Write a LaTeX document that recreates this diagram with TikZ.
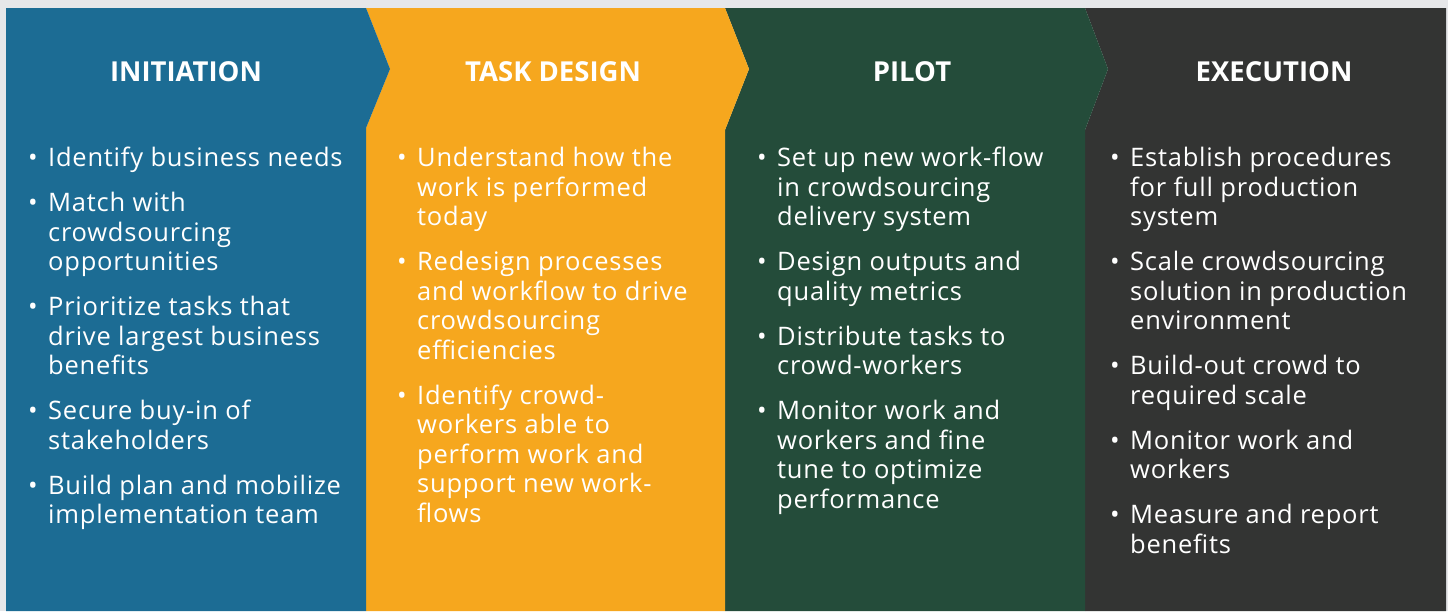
\documentclass[tikz,border=0pt]{standalone}
\usepackage{fontspec}
\setmainfont{Open Sans}

\definecolor{initblue}{RGB}{28,108,148}
\definecolor{designorange}{RGB}{246,167,30}
\definecolor{pilotgreen}{RGB}{36,76,58}
\definecolor{execgray}{RGB}{51,52,51}
\definecolor{framegray}{RGB}{230,231,233}

% one bullet point, later lines hang under the text
\newcommand{\phaseitem}[1]{\par\hangindent=20pt\hangafter=1\noindent\makebox[20pt][l]{\textbullet}#1}
% the block of bullet points under a phase title
\newcommand{\phaselist}[1]{\vtop{\hsize=330pt\raggedright
    \fontsize{25.5pt}{29.5pt}\selectfont\addfontfeatures{LetterSpace=3}\parskip=15.5pt
    #1\par}}

\tikzset{
  phase title/.style={anchor=base, text=white, font=\fontsize{27.5pt}{32pt}\selectfont\bfseries},
  phase list/.style={anchor=base west, inner sep=0pt, text=white}
}

\begin{document}
\begin{tikzpicture}[x=1pt, y=-1pt]
    \fill[framegray] (0,0) rectangle (1448,611);
    \useasboundingbox (0,0) rectangle (1448,611);
    % the four phases, each one pointing into the next
    \fill[execgray] (1085,8) -- (1446,8) -- (1446,611) -- (1085,611) -- (1085,130) -- (1108,69) -- cycle;
    \fill[pilotgreen] (725,8) -- (1085,8) -- (1108,69) -- (1085,130) -- (1085,611) -- (725,611) -- (725,130) -- (749,69) -- cycle;
    \fill[designorange] (366,8) -- (725,8) -- (749,69) -- (725,130) -- (725,611) -- (366,611) -- (366,128) -- (390,69) -- cycle;
    \fill[initblue] (6,8) -- (366,8) -- (390,69) -- (366,128) -- (366,611) -- (6,611) -- cycle;

    \node[phase title] (initiation) at (186,81.7) {INITIATION};
    \node[phase title] (taskdesign) at (553,81.7) {TASK DESIGN};
    \node[phase title] (pilot) at (912,81.7) {PILOT};
    \node[phase title] (execution) at (1274,81.7) {EXECUTION};

    \node[phase list] (initlist) at (28,166.7) {\phaselist{%
        \phaseitem{Identify business needs}
        \phaseitem{Match with\newline crowdsourcing\newline opportunities}
        \phaseitem{Prioritize tasks that\newline drive largest business\newline benefits}
        \phaseitem{Secure buy-in of\newline stakeholders}
        \phaseitem{Build plan and mobilize\newline implementation team}}};
    \node[phase list] (designlist) at (397,166.7) {\phaselist{%
        \phaseitem{Understand how the\newline work is performed\newline today}
        \phaseitem{Redesign processes\newline and workflow to drive\newline crowdsourcing\newline efficiencies}
        \phaseitem{Identify crowd-\newline workers able to\newline perform work and\newline support new work-\newline flows}}};
    \node[phase list] (pilotlist) at (757,166.7) {\phaselist{%
        \phaseitem{Set up new work-flow\newline in crowdsourcing\newline delivery system}
        \phaseitem{Design outputs and\newline quality metrics}
        \phaseitem{Distribute tasks to\newline crowd-workers}
        \phaseitem{Monitor work and\newline workers and fine\newline tune to optimize\newline performance}}};
    \node[phase list] (execlist) at (1110,166.7) {\phaselist{%
        \phaseitem{Establish procedures\newline for full production\newline system}
        \phaseitem{Scale crowdsourcing\newline solution in production\newline environment}
        \phaseitem{Build-out crowd to\newline required scale}
        \phaseitem{Monitor work and\newline workers}
        \phaseitem{Measure and report\newline benefits}}};
\end{tikzpicture}
\end{document}
